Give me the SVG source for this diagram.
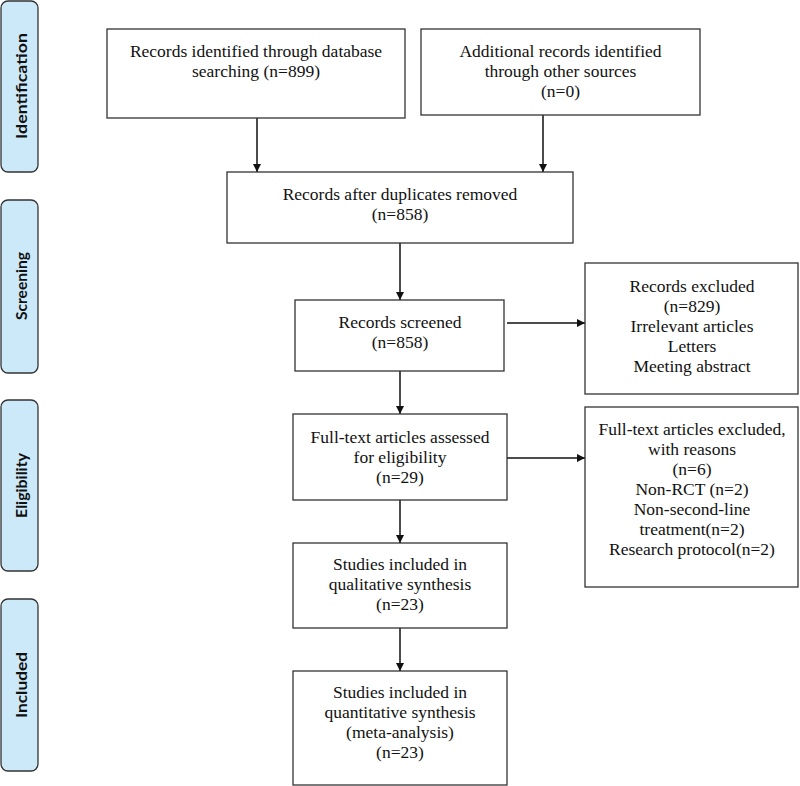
<svg xmlns="http://www.w3.org/2000/svg" width="800" height="786" viewBox="0 0 800 786">
<defs>
<style>
.box{fill:#fff;stroke:#333;stroke-width:1.3}
.side{fill:#cce9fa;stroke:#333;stroke-width:1.3}
.t{font-family:"Liberation Serif","Times New Roman",serif;font-size:17.5px;fill:#111;text-anchor:middle}
.s{font-family:Lato,"Open Sans",sans-serif;font-weight:bold;font-size:15.5px;fill:#111;text-anchor:middle}
.c{stroke:#111;stroke-width:1.5;fill:none;marker-end:url(#ah)}
</style>
<marker id="ah" viewBox="0 0 10 10" refX="10" refY="5" markerWidth="8" markerHeight="8" markerUnits="userSpaceOnUse" orient="auto">
<path d="M0,0 L10,5 L0,10 z" fill="#111"/>
</marker>
</defs>
<rect width="800" height="786" fill="#fff"/>

<g id="phase-identification">
<rect class="side" x="1" y="1" width="37" height="171" rx="7"/>
<text class="s" transform="translate(26.5,86) rotate(-90)" textLength="106" lengthAdjust="spacingAndGlyphs">Identification</text>
</g>
<g id="phase-screening">
<rect class="side" x="1" y="200" width="37" height="173" rx="7"/>
<text class="s" transform="translate(26.5,286) rotate(-90)" textLength="68" lengthAdjust="spacingAndGlyphs">Screening</text>
</g>
<g id="phase-eligibility">
<rect class="side" x="1" y="400" width="37" height="171" rx="7"/>
<text class="s" transform="translate(26.5,485.5) rotate(-90)" textLength="65" lengthAdjust="spacingAndGlyphs">Eligibility</text>
</g>
<g id="phase-included">
<rect class="side" x="1" y="599" width="37" height="172" rx="7"/>
<text class="s" transform="translate(26.5,685) rotate(-90)" textLength="66" lengthAdjust="spacingAndGlyphs">Included</text>
</g>

<g id="connectors">
<line class="c" x1="257" y1="115" x2="257" y2="172"/>
<line class="c" x1="543" y1="115" x2="543" y2="172"/>
<line class="c" x1="400" y1="243" x2="400" y2="300"/>
<line class="c" x1="507" y1="323" x2="585" y2="323"/>
<line class="c" x1="400" y1="371" x2="400" y2="414"/>
<line class="c" x1="507" y1="458" x2="585" y2="458"/>
<line class="c" x1="400" y1="500" x2="400" y2="543"/>
<line class="c" x1="400" y1="628" x2="400" y2="671"/>
</g>

<g id="n1">
<rect class="box" x="107" y="29" width="298" height="89"/>
<text class="t" x="256" y="57">Records identified through database</text>
<text class="t" x="256" y="77">searching (n=899)</text>
</g>
<g id="n2">
<rect class="box" x="421" y="29" width="279" height="86"/>
<text class="t" x="560.5" y="57">Additional records identified</text>
<text class="t" x="560.5" y="77">through other sources</text>
<text class="t" x="560.5" y="97">(n=0)</text>
</g>
<g id="n3">
<rect class="box" x="227" y="172" width="346" height="71"/>
<text class="t" x="400" y="200">Records after duplicates removed</text>
<text class="t" x="400" y="220">(n=858)</text>
</g>
<g id="n4">
<rect class="box" x="295" y="300" width="209" height="71"/>
<text class="t" x="400" y="328">Records screened</text>
<text class="t" x="400" y="348">(n=858)</text>
</g>
<g id="n5">
<rect class="box" x="585" y="263" width="213" height="131"/>
<text class="t" x="692" y="292">Records excluded</text>
<text class="t" x="692" y="312">(n=829)</text>
<text class="t" x="692" y="332">Irrelevant articles</text>
<text class="t" x="692" y="352">Letters</text>
<text class="t" x="692" y="372">Meeting abstract</text>
</g>
<g id="n6">
<rect class="box" x="293" y="414" width="214" height="86"/>
<text class="t" x="400" y="443">Full-text articles assessed</text>
<text class="t" x="400" y="463">for eligibility</text>
<text class="t" x="400" y="483">(n=29)</text>
</g>
<g id="n7">
<rect class="box" x="585" y="407" width="213" height="180"/>
<text class="t" x="692" y="435">Full-text articles excluded,</text>
<text class="t" x="692" y="455">with reasons</text>
<text class="t" x="692" y="475">(n=6)</text>
<text class="t" x="692" y="495">Non-RCT (n=2)</text>
<text class="t" x="692" y="515">Non-second-line</text>
<text class="t" x="692" y="535">treatment(n=2)</text>
<text class="t" x="692" y="555">Research protocol(n=2)</text>
</g>
<g id="n8">
<rect class="box" x="293" y="543" width="214" height="85"/>
<text class="t" x="400" y="570">Studies included in</text>
<text class="t" x="400" y="590">qualitative synthesis</text>
<text class="t" x="400" y="610">(n=23)</text>
</g>
<g id="n9">
<rect class="box" x="293" y="671" width="214" height="114"/>
<text class="t" x="400" y="698">Studies included in</text>
<text class="t" x="400" y="718">quantitative synthesis</text>
<text class="t" x="400" y="738">(meta-analysis)</text>
<text class="t" x="400" y="758">(n=23)</text>
</g>
</svg>
